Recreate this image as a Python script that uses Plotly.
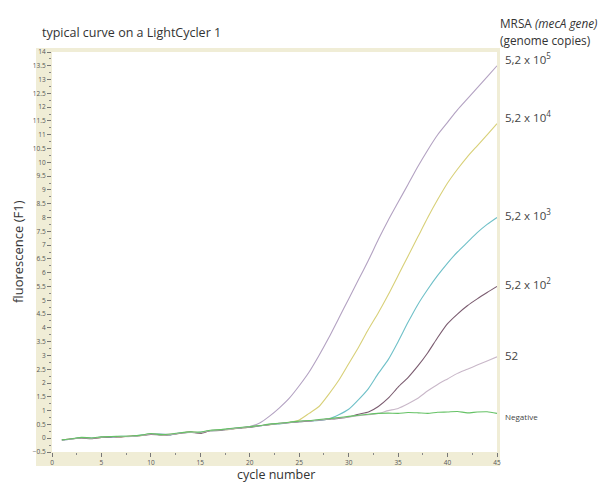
import plotly.graph_objects as go

cycles = list(range(1, 46))

copies_1e5 = [-0.07, -0.03, 0.02, -0.01, 0.04, 0.05, 0.06, 0.07, 0.10, 0.15,
              0.14, 0.13, 0.19, 0.22, 0.20, 0.28, 0.29, 0.33, 0.38, 0.42,
              0.55, 0.80, 1.10, 1.45, 1.90, 2.40, 3.00, 3.65, 4.35, 5.05,
              5.75, 6.45, 7.20, 7.90, 8.55, 9.20, 9.85, 10.45, 11.00, 11.45,
              11.90, 12.30, 12.70, 13.10, 13.50]
copies_1e4 = [-0.06, -0.02, 0.01, 0.00, 0.03, 0.06, 0.05, 0.08, 0.09, 0.16,
              0.13, 0.14, 0.18, 0.23, 0.19, 0.27, 0.30, 0.32, 0.37, 0.40,
              0.45, 0.49, 0.53, 0.58, 0.66, 0.90, 1.15, 1.60, 2.10, 2.70,
              3.30, 3.95, 4.55, 5.20, 5.90, 6.60, 7.30, 8.00, 8.65, 9.25,
              9.75, 10.20, 10.60, 11.00, 11.40]
copies_1e3 = [-0.07, -0.03, 0.02, 0.01, 0.04, 0.05, 0.07, 0.06, 0.11, 0.15,
              0.15, 0.12, 0.20, 0.21, 0.21, 0.27, 0.29, 0.34, 0.37, 0.41,
              0.44, 0.50, 0.52, 0.57, 0.60, 0.62, 0.64, 0.70, 0.85, 1.05,
              1.40, 1.80, 2.35, 2.85, 3.50, 4.20, 4.85, 5.40, 5.90, 6.35,
              6.75, 7.10, 7.45, 7.75, 8.00]
copies_1e2 = [-0.06, -0.02, 0.01, -0.02, 0.03, 0.05, 0.05, 0.07, 0.10, 0.14,
              0.12, 0.13, 0.18, 0.22, 0.17, 0.27, 0.28, 0.34, 0.37, 0.40,
              0.45, 0.49, 0.54, 0.56, 0.60, 0.62, 0.66, 0.69, 0.72, 0.77,
              0.87, 0.95, 1.15, 1.45, 1.85, 2.20, 2.62, 3.10, 3.65, 4.15,
              4.50, 4.80, 5.05, 5.28, 5.50]
copies_52 = [-0.07, -0.03, 0.02, 0.00, 0.04, 0.06, 0.06, 0.06, 0.10, 0.15,
             0.14, 0.14, 0.19, 0.21, 0.20, 0.28, 0.30, 0.33, 0.38, 0.41,
             0.45, 0.50, 0.53, 0.57, 0.61, 0.63, 0.66, 0.70, 0.73, 0.77,
             0.82, 0.85, 0.90, 1.00, 1.08, 1.25, 1.45, 1.72, 1.95, 2.15,
             2.35, 2.50, 2.65, 2.80, 2.95]
negative = [-0.06, -0.02, 0.03, 0.01, 0.05, 0.06, 0.07, 0.08, 0.11, 0.17,
            0.13, 0.15, 0.20, 0.23, 0.22, 0.29, 0.31, 0.35, 0.39, 0.42,
            0.46, 0.51, 0.54, 0.58, 0.62, 0.64, 0.68, 0.71, 0.75, 0.79,
            0.83, 0.87, 0.90, 0.91, 0.90, 0.93, 0.92, 0.90, 0.94, 0.95,
            0.97, 0.92, 0.95, 0.96, 0.90]

series_names = ["5,2 x 10<sup>5</sup>", "5,2 x 10<sup>4</sup>", "5,2 x 10<sup>3</sup>",
                "5,2 x 10<sup>2</sup>", "52", "Negative"]
series_values = [copies_1e5, copies_1e4, copies_1e3, copies_1e2, copies_52, negative]
series_colors = ["#b3a2c2", "#d8d078", "#6fc0c8", "#7b5c70", "#c9b8c9", "#66c266"]
label_y = [13.75, 11.65, 8.1, 5.6, 3.0, 0.8]

fig = go.Figure()
for name, vals, col in zip(series_names, series_values, series_colors):
    fig.add_trace(go.Scatter(x=cycles, y=vals, mode="lines", name=name,
                             line=dict(color=col, width=1.1, shape="spline", smoothing=0.6),
                             showlegend=False))

# page offset from default body margin
OFF = 8
# plot area geometry in page pixels
L, R, T, B = 52, 497, 52, 452
W, H = R - L, B - T
FIG_W, FIG_H = 597, 475
def px(x):
    return (x - L) / W
def py(y):
    return (B - y) / H

beige = "#f0edd6"
shapes = [
    dict(type="rect", xref="paper", yref="paper", x0=px(36), x1=px(52), y0=py(466), y1=py(48),
         fillcolor=beige, line=dict(width=0), layer="below"),
    dict(type="rect", xref="paper", yref="paper", x0=px(36), x1=px(500), y0=py(466), y1=py(452),
         fillcolor=beige, line=dict(width=0), layer="below"),
    dict(type="rect", xref="paper", yref="paper", x0=px(52), x1=px(500), y0=py(52), y1=py(48),
         fillcolor=beige, line=dict(width=0), layer="below"),
    dict(type="rect", xref="paper", yref="paper", x0=px(497), x1=px(500), y0=py(466), y1=py(48),
         fillcolor=beige, line=dict(width=0), layer="below"),
]

annotations = [
    dict(text="typical curve on a LightCycler 1", xref="paper", yref="paper",
         x=px(40), y=py(33), xanchor="left", yanchor="middle", showarrow=False,
         font=dict(size=12.5, color="#333333")),
    dict(text="MRSA <i>(mecA gene)</i>", xref="paper", yref="paper",
         x=px(498), y=py(23), xanchor="left", yanchor="middle", showarrow=False,
         font=dict(size=11.8, color="#333333")),
    dict(text="(genome copies)", xref="paper", yref="paper",
         x=px(498), y=py(40), xanchor="left", yanchor="middle", showarrow=False,
         font=dict(size=11.8, color="#333333")),
    dict(text="fluorescence (F1)", xref="paper", yref="paper", textangle=-90,
         x=px(18), y=py(252), xanchor="center", yanchor="middle", showarrow=False,
         font=dict(size=13, color="#333333")),
    dict(text="cycle number", xref="paper", yref="paper",
         x=px(276), y=py(474), xanchor="center", yanchor="middle", showarrow=False,
         font=dict(size=12.5, color="#333333")),
]
for name, ly in zip(series_names, label_y):
    small = name == "Negative"
    annotations.append(dict(text=name, xref="paper", yref="y", x=px(503), y=ly,
                            xanchor="left", yanchor="middle", showarrow=False,
                            font=dict(size=8 if small else 11.5, color="#444444")))

fig.update_layout(
    width=FIG_W, height=FIG_H,
    margin=dict(l=L - OFF, r=FIG_W + OFF - R, t=T - OFF, b=FIG_H + OFF - B),
    paper_bgcolor="white", plot_bgcolor="white",
    font=dict(family="Open Sans, Arial, sans-serif", color="#555555"),
    shapes=shapes, annotations=annotations,
    xaxis=dict(range=[0, 45], tickmode="linear", tick0=0, dtick=5, showgrid=False,
               zeroline=False, showline=False, ticks="outside", ticklen=4, tickwidth=1,
               tickcolor="#777777", tickfont=dict(size=6.5, color="#555555"),
               minor=dict(dtick=2.5, ticks="outside", ticklen=2, tickcolor="#888888")),
    yaxis=dict(range=[-0.5, 14], tickmode="linear", tick0=0, dtick=0.5, showgrid=False,
               zeroline=False, showline=False, ticks="outside", ticklen=4, tickwidth=1,
               tickcolor="#777777", tickfont=dict(size=6.5, color="#555555"),
               minor=dict(dtick=0.25, ticks="outside", ticklen=2, tickcolor="#888888")),
)

fig.write_html("out.html")
